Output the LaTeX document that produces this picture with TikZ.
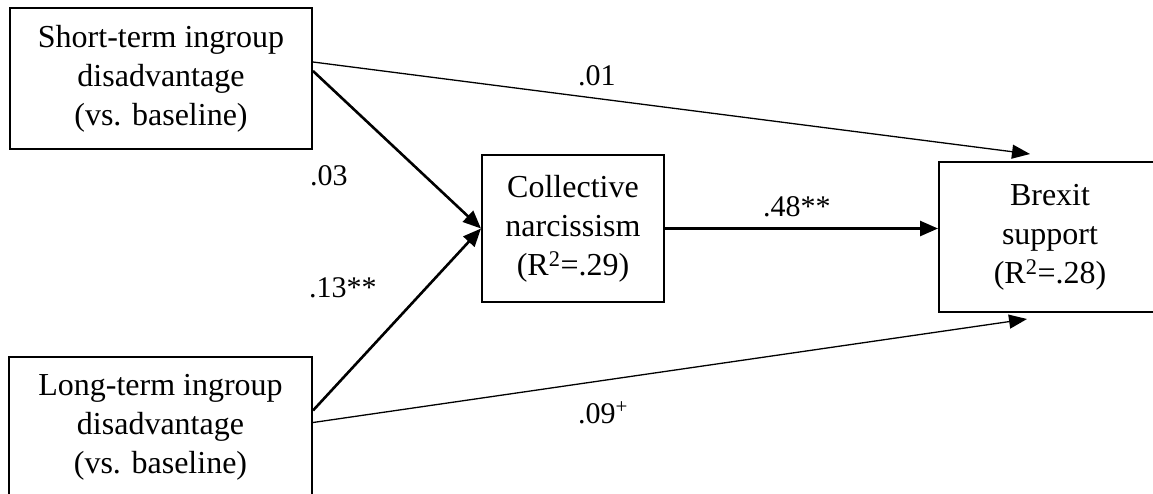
\documentclass[tikz,border=0pt]{standalone}
\usepackage{fontspec}
\setmainfont{Liberation Serif}
\usetikzlibrary{arrows.meta,calc}
\begin{document}
\begin{tikzpicture}[x=1pt,y=-1pt,
  varbox/.style={draw,line width=2pt,inner sep=0pt,align=center,
    font=\fontsize{32}{39}\selectfont},
  coef/.style={anchor=base west,inner sep=0pt,font=\fontsize{30}{36}\selectfont},
  thickarr/.style={line width=2.6pt,-{Triangle[length=18pt,width=15pt]}},
  thinarr/.style={line width=1.3pt,-{Triangle[length=18pt,width=14pt]}}]
\useasboundingbox (0,0) rectangle (1153,493);
\begin{scope}
\clip (0,0) rectangle (1153,493);
\node[varbox,minimum width=302pt,minimum height=141pt] (s) at (161,78.5)
  {Short-term ingroup\\disadvantage\\(vs. baseline)};
\node[varbox,minimum width=303pt,minimum height=141pt] (l) at (160.5,427.5)
  {Long-term ingroup\\disadvantage\\(vs. baseline)};
\node[varbox,minimum width=182pt,minimum height=147pt] (c) at (573,228.5)
  {Collective\\narcissism\\(R\textsuperscript{2}=.29)};
\node[varbox,minimum width=222pt,minimum height=150pt] (b) at (1050,237)
  {Brexit\\support\\(R\textsuperscript{2}=.28)};
\end{scope}
\coordinate (s1) at ([yshift=16.5pt]s.east);
\coordinate (s2) at ([yshift=7.5pt]s.east);
\coordinate (l1) at ([yshift=17pt]l.east);
\coordinate (l2) at ([yshift=5pt]l.east);
\coordinate (b1) at ([xshift=-20pt,yshift=7pt]b.north);
\coordinate (b2) at ([xshift=-23pt,yshift=-6pt]b.south);
\draw[thinarr] (s1) -- (b1);
\draw[thickarr] (s2) -- (c.west);
\draw[thickarr] (l1) -- (c.west);
\draw[thickarr] (c.east) -- (c.east -| b.west);
\draw[thinarr] (l2) -- (b2);
\node[coef] (k1) at (578,85) {.01};
\node[coef] (k2) at (310,185) {.03};
\node[coef] (k3) at (309,297) {.13**};
\node[coef] (k4) at (763,216) {.48**};
\node[coef] (k5) at (578,423) {.09\textsuperscript{+}};
\end{tikzpicture}
\end{document}
